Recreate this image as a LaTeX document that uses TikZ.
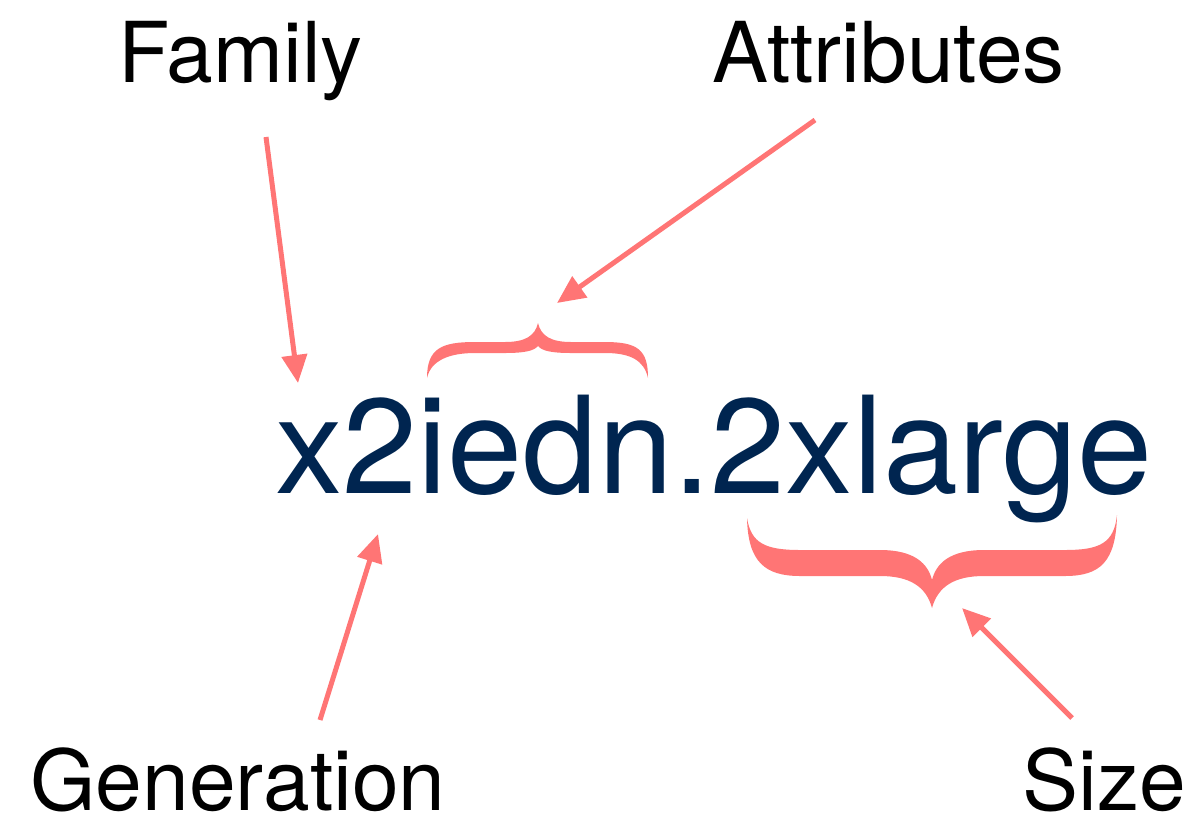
\documentclass[tikz,border=0pt]{standalone}
\usepackage{fontspec}
\setmainfont{TeX Gyre Heros}
\usepackage{tikz}
\usetikzlibrary{arrows.meta}
\definecolor{navy}{RGB}{0,37,80}
\definecolor{salmon}{RGB}{255,117,117}

\begin{document}
\begin{tikzpicture}[x=0.5pt,y=-0.5pt,
    lbl/.style={anchor=base west,inner sep=0pt,font=\fontsize{42}{50}\selectfont},
    pointer/.style={color=salmon,line width=2.5pt,-{Triangle[length=14pt,width=12.5pt]}},
    brace/.style={fill=salmon,draw=none}]
  \useasboundingbox (0,0) rectangle (1204,836);

   \draw (118,82) node[lbl] (family) {Family};
   \draw (712,82) node[lbl] (attr) {Attributes};
   \draw (30,810) node[lbl] (gen) {Generation};
   \draw (1022,810) node[lbl] (size) {Size};
   \draw (275,493) node[lbl,font=\fontsize{67.5}{80}\selectfont,text=navy] (name) {x2iedn.2xlarge};

   \coordinate (famtail) at (266,137);   \coordinate (famtip) at (298,383);
   \coordinate (attrtail) at (815,120);  \coordinate (attrtip) at (557,303);
   \coordinate (gentail) at (320,720);   \coordinate (gentip) at (378,534);
   \coordinate (sizetail) at (1072,718); \coordinate (sizetip) at (962,608);

    \draw[pointer] (famtail) -- (famtip);
    \draw[pointer] (attrtail) -- (attrtip);
    \draw[pointer] (gentail) -- (gentip);
    \draw[pointer] (sizetail) -- (sizetip);

  % brace over "iedn"
  \path[brace] (427,378) .. controls (427,348) and (442,342) .. (475,342) -- (505,342)
     .. controls (525,342) and (535,336) .. (538,323)
     .. controls (541,336) and (551,342) .. (571,342) -- (605,342)
     .. controls (638,342) and (648,350) .. (648,378)
     .. controls (644,360) and (630,353) .. (605,353) -- (571,353)
     .. controls (552,353) and (542,351) .. (538,346)
     .. controls (534,351) and (524,353) .. (505,353) -- (475,353)
     .. controls (450,353) and (431,360) .. cycle;
  % brace under "2xlarge"
  \path[brace] (747,518) .. controls (751,543) and (765,550) .. (800,550) -- (880,550)
     .. controls (915,550) and (928,564) .. (932,580)
     .. controls (936,564) and (949,550) .. (984,550) -- (1065,550)
     .. controls (1100,550) and (1114,543) .. (1117,515)
     .. controls (1116,562) and (1100,576) .. (1065,576) -- (984,576)
     .. controls (955,576) and (938,586) .. (932,608)
     .. controls (926,586) and (909,576) .. (880,576) -- (800,576)
     .. controls (765,576) and (748,562) .. cycle;

\end{tikzpicture}
\end{document}
